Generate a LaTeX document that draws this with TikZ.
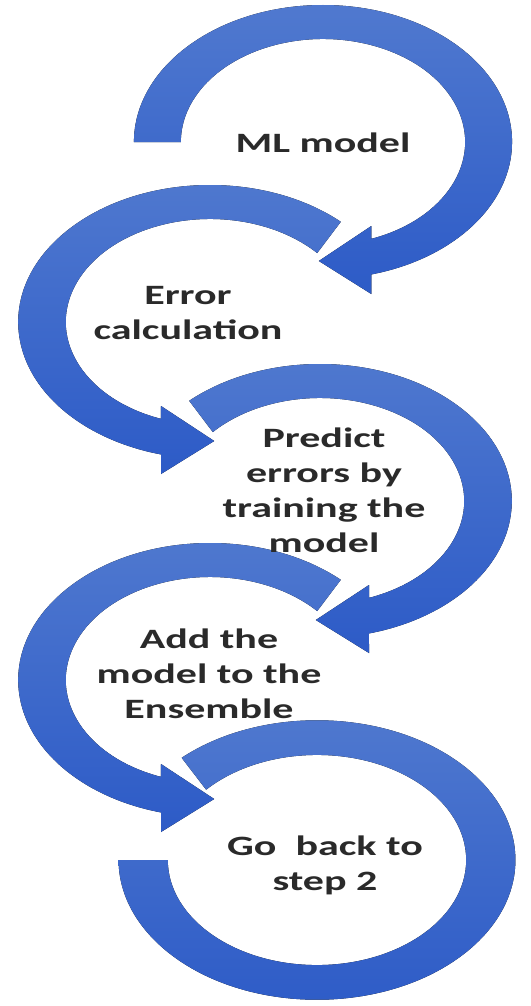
\documentclass[tikz,border=0pt]{standalone}
\usepackage{fontspec}
\setmainfont{Carlito}
\definecolor{ringtop}{HTML}{5079CF}
\definecolor{ringbot}{HTML}{2D5BC7}
\definecolor{textgray}{HTML}{2A2A2A}
\tikzset{
  ringfill/.style={top color=ringtop, bottom color=ringbot, draw=none},
  lbl/.style={font=\fontsize{28}{35}\selectfont\bfseries, text=textgray, align=center, xscale=1.5, inner sep=0pt}
}
% right ring with head at bottom pointing left; #1 outer start angle, #2 inner start angle
\newcommand{\myheadring}[2]{%
  \fill[ringfill] (#1:137) arc[start angle=#1, end angle=-75.2, radius=137pt]
    -- (35,-152) -- (-3,-119) -- (35,-84) -- (-70.1:103)
    arc[start angle=-70.1, end angle=#2, radius=103pt] -- cycle;}
\begin{document}
\begin{tikzpicture}[x=1pt,y=1pt]
\fill[white] (0,0) rectangle (530,-1006);
\useasboundingbox (0,0) rectangle (530,-1006);
% ring 1
\begin{scope}[shift={(323,-142)}, xscale=1.38]
  \myheadring{180}{180}
\end{scope}
% ring 2 (mirrored)
\begin{scope}[shift={(210,-322)}, xscale=-1.4]
  \myheadring{133}{138}
\end{scope}
% ring 3
\begin{scope}[shift={(320,-501)}, xscale=1.4]
  \myheadring{133}{138}
\end{scope}
% ring 4 (mirrored)
\begin{scope}[shift={(210,-680)}, xscale=-1.4]
  \myheadring{133}{138}
\end{scope}
% ring 5 (no head)
\begin{scope}[shift={(317,-860)}, xscale=1.42, scale=1.02]
  \fill[ringfill] (133:137) arc[start angle=133, end angle=-180, radius=137pt]
    -- (-180:103) arc[start angle=-180, end angle=138, radius=103pt] -- cycle;
\end{scope}
\node[lbl] (t1) at (323,-143) {ML model};
\node[lbl] (t2) at (188,-313) {Error\\calculation};
\node[lbl] (t3) at (324,-490) {Predict\\errors by\\training the\\model};
\node[lbl] (t4) at (209,-674) {Add the\\model to the\\Ensemble};
\node[lbl] (t5) at (325,-865) {Go~ back to\\step 2};
\end{tikzpicture}
\end{document}
